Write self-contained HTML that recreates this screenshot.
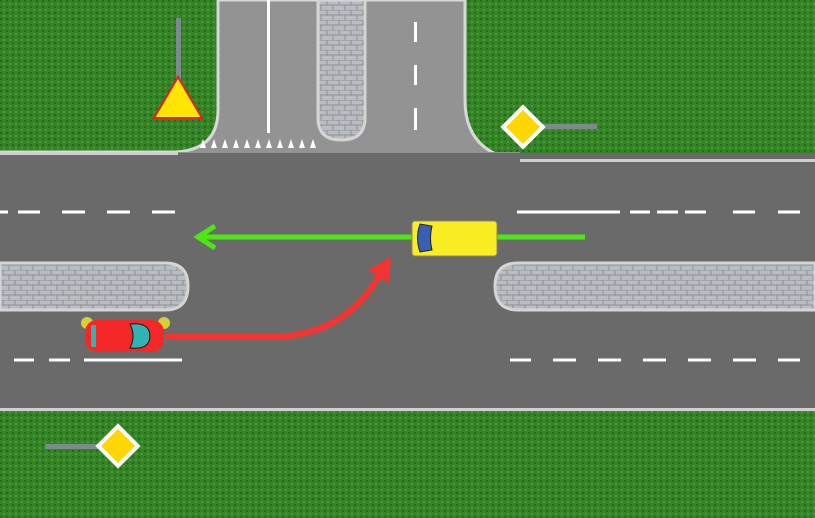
<!DOCTYPE html>
<html><head><style>html,body{margin:0;padding:0;background:#327f25}svg{display:block}</style></head><body>
<svg width="815" height="518" viewBox="0 0 815 518" xmlns="http://www.w3.org/2000/svg">
<defs>
<pattern id="g" width="6" height="6" patternUnits="userSpaceOnUse"><rect width="6" height="6" fill="#348427"/><rect x="0" y="0" width="2" height="2" fill="#256b1b"/><rect x="3" y="3" width="2" height="2" fill="#4a9a35"/></pattern>
<pattern id="p" width="12" height="10" patternUnits="userSpaceOnUse"><rect width="12" height="10" fill="#b9bdc2"/><path d="M0 0H12M0 5H12M3 0V5M9 5V10" stroke="#8d9196" stroke-width="1"/></pattern>
</defs>
<rect width="815" height="518" fill="url(#g)"/>
<!-- side road -->
<path d="M218 0 V110 Q218 150 175 152 H0 V165 H815 V162 H535 Q465 160 465 100 V0 Z" fill="#939393" stroke="#d8d8d8" stroke-width="3"/>
<!-- main road -->
<rect x="0" y="153" width="815" height="257" fill="#6a6a6a"/>
<rect x="0" y="152" width="178" height="3" fill="#cfcfcf"/>
<rect x="520" y="159" width="295" height="3" fill="#cfcfcf"/>
<rect x="178" y="152" width="342" height="1" fill="#939393"/>
<rect x="0" y="408" width="815" height="3" fill="#d0d0d0"/>
<!-- top median -->
<path d="M318 0 V118 Q318 140 341 140 Q365 140 365 118 V0 Z" fill="url(#p)" stroke="#d5d5d5" stroke-width="3"/>
<rect x="267" y="0" width="3" height="133" fill="#fff"/>
<g fill="#fff"><rect x="414" y="22" width="3" height="20"/><rect x="414" y="65" width="3" height="20"/><rect x="414" y="108" width="3" height="22"/></g>
<g fill="#fff">
<path d="M200 148 l3 -9 l3 9z M211 148 l3 -9 l3 9z M222 148 l3 -9 l3 9z M233 148 l3 -9 l3 9z M244 148 l3 -9 l3 9z M255 148 l3 -9 l3 9z M266 148 l3 -9 l3 9z M277 148 l3 -9 l3 9z M288 148 l3 -9 l3 9z M299 148 l3 -9 l3 9z M310 148 l3 -9 l3 9z"/>
</g>
<!-- medians -->
<path d="M0 263 H165 Q188 263 188 286 Q188 310 165 310 H0 Z" fill="url(#p)" stroke="#d5d5d5" stroke-width="3"/>
<path d="M815 263 H518 Q495 263 495 286 Q495 310 518 310 H815 Z" fill="url(#p)" stroke="#d5d5d5" stroke-width="3"/>
<!-- dashes -->
<g stroke="#fff" stroke-width="3">
<path d="M0 212H8 M18 212H40 M62 212H85 M107 212H130 M152 212H175"/>
<path d="M517 212H620 M630 212H650 M657 212H678 M685 212H706 M733 212H755 M778 212H800"/>
<path d="M14 360H34 M49 360H70 M84 360H182"/>
<path d="M510 360H531 M553 360H576 M598 360H621 M643 360H666 M688 360H711 M733 360H756 M778 360H800"/>
</g>
<!-- green arrow -->
<path d="M585 237 H198" stroke="#4ee614" stroke-width="5" fill="none"/>
<path d="M215 226 L198 237 L215 248" stroke="#4ee614" stroke-width="5" fill="none"/>
<!-- van -->
<rect x="412" y="221" width="85" height="35" rx="3" fill="#f9ee24" stroke="#8a8a5a"/>
<path d="M420 224 Q415 238 420 252 L432 250 Q429 238 432 226Z" fill="#3a5eb0" stroke="#222"/>
<!-- red arrow -->
<path d="M165 337 H270 Q350 337 385 265" stroke="#f63333" stroke-width="6" fill="none"/>
<path d="M368 270 L391 257 L389 283 Z" fill="#f63333"/>
<!-- car -->
<circle cx="87" cy="323" r="6" fill="#f2e82a" opacity=".8"/>
<circle cx="164" cy="323" r="6" fill="#f2e82a" opacity=".8"/>
<rect x="85" y="320" width="79" height="32" rx="12" fill="#f52828"/>
<path d="M130 324 Q150 322 150 336 Q150 350 130 348 Q136 336 130 324Z" fill="#2fb3b3" stroke="#111"/>
<rect x="91" y="325" width="5" height="22" fill="#2fb3b3"/>
<!-- signs -->
<rect x="176" y="18" width="5" height="62" fill="#7d8a90"/>
<path d="M178 77 L202 118 L154 118 Z" fill="#ffe600" stroke="#d22" stroke-width="2"/>
<rect x="540" y="124" width="57" height="5" fill="#7d8a90"/>
<rect x="509" y="113" width="28" height="28" transform="rotate(45 523 127)" fill="#ffd600" stroke="#fff" stroke-width="4"/>
<rect x="45" y="444" width="60" height="5" fill="#7d8a90"/>
<rect x="104" y="432" width="28" height="28" transform="rotate(45 118 446)" fill="#ffd600" stroke="#fff" stroke-width="4"/>
</svg>
</body></html>
